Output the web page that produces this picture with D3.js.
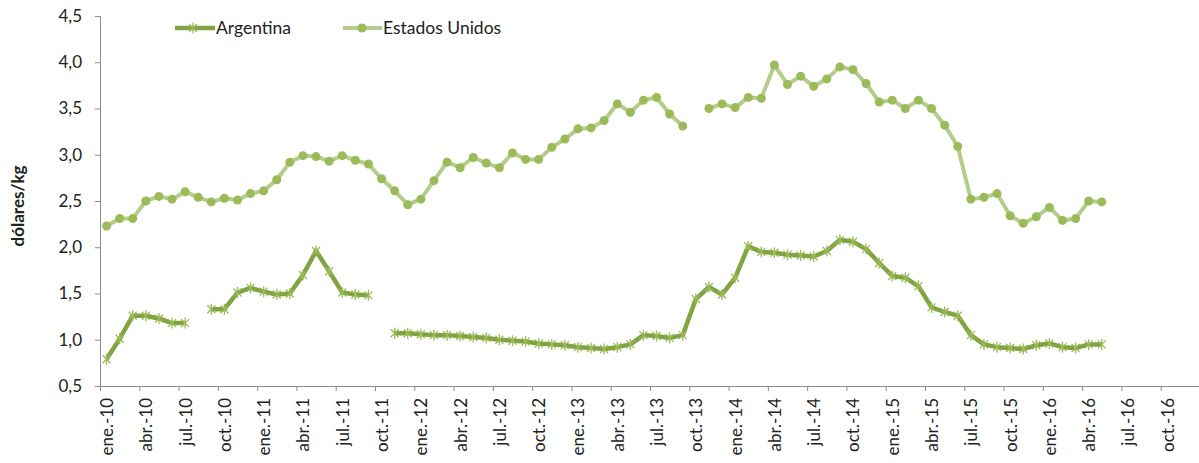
<!DOCTYPE html>
<html lang="es">
  <head>
    <meta charset="utf-8">
    <title>Precios dólares/kg</title>
    <script src="https://cdn.jsdelivr.net/npm/d3@7"></script>
    <style>
      body { margin: 0; background: #fff; }
      text { font-family: Lato, "Open Sans", sans-serif; fill: #222; }
    </style>
  </head>
  <body>
    <script>

        var w = 1199;
        var h = 463;

        // one value per month, starting ene.-10 (null = no data)
        var argentina = [
          0.79, 1.01, 1.26, 1.26, 1.23, 1.18, 1.18, null, 1.33, 1.33,
          1.51, 1.56, 1.52, 1.49, 1.50, 1.70, 1.96, 1.74, 1.51, 1.49,
          1.48, null, 1.07, 1.07, 1.06, 1.05, 1.05, 1.04, 1.03, 1.02,
          1.00, 0.99, 0.98, 0.96, 0.95, 0.94, 0.92, 0.91, 0.90, 0.92,
          0.95, 1.05, 1.04, 1.02, 1.05, 1.44, 1.57, 1.49, 1.67, 2.01,
          1.95, 1.94, 1.92, 1.91, 1.90, 1.96, 2.08, 2.06, 1.98, 1.83,
          1.69, 1.67, 1.58, 1.35, 1.30, 1.26, 1.05, 0.95, 0.92, 0.91,
          0.90, 0.94, 0.96, 0.92, 0.91, 0.95, 0.95
        ];

        var estadosUnidos = [
          2.23, 2.31, 2.31, 2.50, 2.55, 2.52, 2.60, 2.54, 2.49, 2.53,
          2.51, 2.58, 2.61, 2.73, 2.92, 2.99, 2.98, 2.93, 2.99, 2.94,
          2.90, 2.74, 2.61, 2.46, 2.52, 2.72, 2.92, 2.86, 2.97, 2.91,
          2.86, 3.02, 2.95, 2.95, 3.08, 3.17, 3.28, 3.29, 3.37, 3.55,
          3.46, 3.59, 3.62, 3.44, 3.31, null, 3.50, 3.55, 3.51, 3.62,
          3.61, 3.97, 3.76, 3.85, 3.74, 3.82, 3.95, 3.92, 3.77, 3.57,
          3.59, 3.50, 3.59, 3.50, 3.32, 3.09, 2.52, 2.54, 2.58, 2.34,
          2.26, 2.33, 2.43, 2.29, 2.31, 2.50, 2.49
        ];

        // labels every 3 months, ene.-10 .. oct.-16
        var tickLabels = [
          "ene.-10", "abr.-10", "jul.-10", "oct.-10",
          "ene.-11", "abr.-11", "jul.-11", "oct.-11",
          "ene.-12", "abr.-12", "jul.-12", "oct.-12",
          "ene.-13", "abr.-13", "jul.-13", "oct.-13",
          "ene.-14", "abr.-14", "jul.-14", "oct.-14",
          "ene.-15", "abr.-15", "jul.-15", "oct.-15",
          "ene.-16", "abr.-16", "jul.-16", "oct.-16"
        ];

        var yTicks = [0.5, 1.0, 1.5, 2.0, 2.5, 3.0, 3.5, 4.0, 4.5];
        var nMonths = 84;

        var colArg = "#82a342";
        var colUS = "#b4cd8b";
        var colUSdot = "#9bbb59";

        var xScale = d3.scaleLinear()
                       .domain([0, nMonths])
                       .range([100, 1200]);

        var yScale = d3.scaleLinear()
                       .domain([0.5, 4.5])
                       .range([386, 16]);

        var mySvg = d3.select("body")
                      .append("svg")
                      .attr("width", w)
                      .attr("height", h);

        var fmt = function(d) { return d3.format(".1f")(d).replace(".", ","); };

        // y axis
        var yAxis = mySvg.append("g")
                         .attr("transform", "translate(100,0)")
                         .call(d3.axisLeft(yScale).tickValues(yTicks).tickFormat(fmt).tickSize(5).tickPadding(13));
        yAxis.selectAll("text").style("font-size", "17px").attr("fill", "#222");

        // x axis (ticks at quarter boundaries, labels at month centres)
        var monthStep = xScale(1) - xScale(0);
        var xAxis = mySvg.append("g")
                         .attr("transform", "translate(0,386)")
                         .call(d3.axisBottom(xScale)
                                 .tickValues(d3.range(0, nMonths, 3))
                                 .tickFormat(function(d) { return tickLabels[d / 3]; })
                                 .tickSize(5));
        xAxis.selectAll("text")
             .style("font-size", "17px")
             .attr("fill", "#222")
             .attr("text-anchor", "end")
             .attr("transform", "translate(" + (monthStep / 2) + ",0) rotate(-90)")
             .attr("x", -12)
             .attr("y", 0)
             .attr("dy", "0.35em");

        mySvg.selectAll(".domain, .tick line").attr("stroke", "#8c8c8c");

        // y axis title
        mySvg.append("text")
             .attr("transform", "translate(18,206) rotate(-90)")
             .attr("text-anchor", "middle")
             .attr("dy", "0.35em")
             .style("font-size", "17px")
             .style("font-weight", "bold")
             .text("dólares/kg");

        var line = d3.line()
                     .defined(function(d) { return d != null; })
                     .x(function(d, i) { return xScale(i + 0.5); })
                     .y(function(d) { return yScale(d); });

        var starPath = "M-4,-4L4,4M-4,4L4,-4M0,-5.5V5.5";

        // Estados Unidos
        mySvg.append("path")
             .datum(estadosUnidos)
             .attr("fill", "none")
             .attr("stroke", colUS)
             .attr("stroke-width", 4)
             .attr("stroke-linejoin", "round")
             .attr("d", line);

        mySvg.append("g").selectAll("circle")
             .data(estadosUnidos.map(function(v, i) { return { v: v, i: i }; })
                                .filter(function(d) { return d.v != null; }))
             .enter()
             .append("circle")
             .attr("cx", function(d) { return xScale(d.i + 0.5); })
             .attr("cy", function(d) { return yScale(d.v); })
             .attr("r", 4.5)
             .attr("fill", colUSdot);

        // Argentina
        mySvg.append("path")
             .datum(argentina)
             .attr("fill", "none")
             .attr("stroke", colArg)
             .attr("stroke-width", 4.5)
             .attr("stroke-linejoin", "round")
             .attr("d", line);

        mySvg.append("g").selectAll("path")
             .data(argentina.map(function(v, i) { return { v: v, i: i }; })
                            .filter(function(d) { return d.v != null; }))
             .enter()
             .append("path")
             .attr("transform", function(d) {
               return "translate(" + xScale(d.i + 0.5) + "," + yScale(d.v) + ")";
             })
             .attr("d", starPath)
             .attr("stroke", "#9bbb59")
             .attr("stroke-width", 1.3)
             .attr("fill", "none");

        // legend
        var legend = mySvg.append("g").attr("transform", "translate(0,28)");

        legend.append("line")
              .attr("x1", 175).attr("x2", 215).attr("y1", 0).attr("y2", 0)
              .attr("stroke", colArg).attr("stroke-width", 4.5);
        legend.append("path")
              .attr("transform", "translate(193,0)")
              .attr("d", starPath)
              .attr("stroke", "#9bbb59").attr("stroke-width", 1.3);
        legend.append("text")
              .attr("x", 216).attr("y", 0).attr("dy", "0.35em")
              .style("font-size", "17.5px")
              .text("Argentina");

        legend.append("line")
              .attr("x1", 343).attr("x2", 382).attr("y1", 0).attr("y2", 0)
              .attr("stroke", colUS).attr("stroke-width", 4);
        legend.append("circle")
              .attr("cx", 362).attr("cy", 0).attr("r", 4.5)
              .attr("fill", colUSdot);
        legend.append("text")
              .attr("x", 383).attr("y", 0).attr("dy", "0.35em")
              .style("font-size", "17.5px")
              .text("Estados Unidos");

    </script>
  </body>
</html>
